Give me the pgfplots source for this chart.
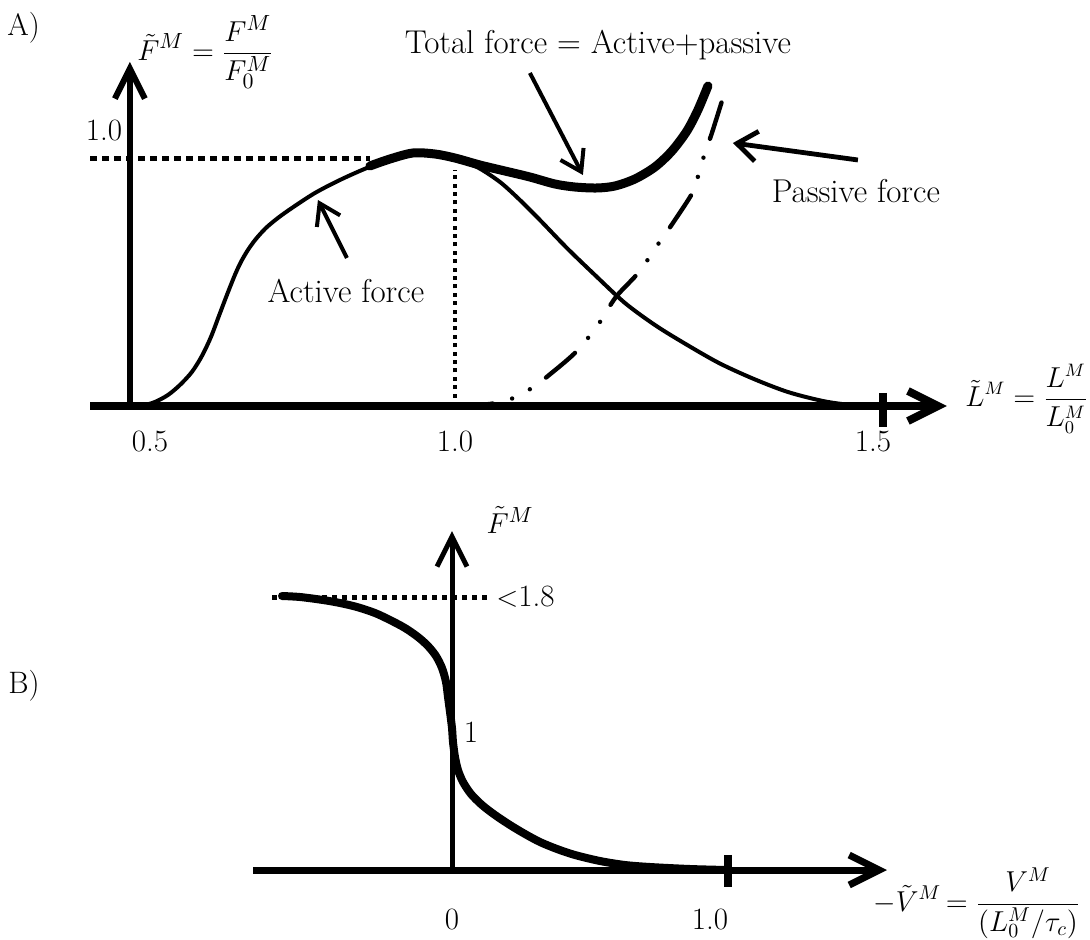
\documentclass[border=0pt]{standalone}
\usepackage{fontspec}
\usepackage{pgfplots}
\pgfplotsset{compat=1.18}
\usetikzlibrary{arrows.meta}
\newcommand{\lab}{\fontsize{15.5}{18.6}\selectfont}
\newcommand{\txt}{\fontsize{16.5}{19.8}\selectfont}
\newcommand{\mth}{\fontsize{14}{16.8}\selectfont}
\newcommand{\mthA}{\fontsize{13.5}{16.2}\selectfont}
\tikzset{
  bigarrow/.style={-{Straight Barb[length=15pt,width=15pt]}},
  smallarrow/.style={line width=2pt,-{Straight Barb[length=10pt,width=13pt]}},
}
\begin{document}
\begin{tikzpicture}
\useasboundingbox (0,0) rectangle (545pt,-470pt);

% ---------------- Panel A ----------------
\begin{axis}[
  at={(45pt,-233.875pt)}, anchor=south west,
  x=376.5pt, y=123.5pt,
  xmin=0.447, xmax=1.585, ymin=-0.25, ymax=1.5,
  enlargelimits=false, clip=false,
  axis x line=middle, axis y line=none,
  x axis line style={line width=4pt, bigarrow},
  xtick={0.5,0.9316,1.5},
  xticklabels={\hspace*{20pt}0.5,1.0,1.5\hspace*{10pt}},
  hide obscured x ticks=false,
  major tick length=0pt,
  xticklabel style={font=\lab, yshift=-9pt},
  ytick=\empty,
]
% y axis
\draw[line width=3pt, bigarrow] (axis cs:0.5,0) -- (axis cs:0.5,1.393);
% tick at 1.5
\draw[line width=4pt] (axis cs:1.5,0.053) -- (axis cs:1.5,-0.085);
% dotted guides
\draw[line width=2.5pt, dash pattern=on 3.5pt off 2.5pt] (axis cs:0.447,1.0) -- (axis cs:0.8187,1.0);
\draw[line width=2pt, dash pattern=on 2pt off 2.2pt] (axis cs:0.9316,0) -- (axis cs:0.9316,0.955);

% Passive force (dash dot dot)
\addplot[line width=2.2pt, smooth, line cap=round,
  dash pattern=on 19pt off 10pt on 0pt off 10pt on 0pt off 10pt] coordinates {
(0.9316,0) (0.9781,0.0081) (1.0060,0.0283) (1.0339,0.0729) (1.0551,0.1215)
(1.0923,0.2186) (1.1215,0.3279) (1.1454,0.4413) (1.1760,0.5425) (1.2052,0.6721)
(1.2211,0.7409) (1.2477,0.8664) (1.2556,0.9433) (1.2636,1.0243) (1.2729,1.1053)
(1.2875,1.2470)};

% Active force
\addplot[line width=2pt, smooth] coordinates {
(0.5159,0) (0.5332,0.0162) (0.5505,0.0445) (0.5664,0.0850) (0.5823,0.1377)
(0.5956,0.2024) (0.6076,0.2794) (0.6182,0.3644) (0.6288,0.4494) (0.6394,0.5304)
(0.6474,0.5830) (0.6567,0.6316) (0.6673,0.6761) (0.6806,0.7206) (0.6965,0.7611)
(0.7151,0.8016) (0.7457,0.8623) (0.7789,0.9150)
(0.8147,0.9636) (0.8453,0.9960) (0.8758,1.0202) (0.9051,1.0162)
(0.9316,1.0000) (0.9608,0.9676) (0.9914,0.9069) (1.0179,0.8340) (1.0445,0.7530)
(1.0803,0.6397) (1.1175,0.5304) (1.1574,0.4170) (1.1972,0.3279) (1.2357,0.2551)
(1.2822,0.1741) (1.3287,0.1093) (1.3738,0.0567) (1.4203,0.0202) (1.4575,0.0040)
(1.4894,0)};

% Total force
\addplot[line width=4.5pt, smooth, line cap=round] coordinates {
(0.8187,0.9717) (0.8453,1.0000) (0.8758,1.0243) (0.9051,1.0202) (0.9316,1.0040)
(0.9648,0.9757) (0.9980,0.9514) (1.0312,0.9271) (1.0644,0.8988) (1.0910,0.8866)
(1.1202,0.8826) (1.1441,0.8907) (1.1706,0.9190) (1.1972,0.9676) (1.2198,1.0324)
(1.2397,1.1134) (1.2543,1.1984) (1.2676,1.2955)};

% labels and annotation arrows
\node[font=\lab, anchor=west, inner sep=0pt] at (axis cs:0.3367,1.5304) {A)};
\node[font=\lab, anchor=west, inner sep=0pt] at (axis cs:0.5093,1.4332)
  {$\displaystyle \tilde{F}^M = \frac{F^M}{F_0^M}$};
\node[font=\lab, inner sep=0pt] at (axis cs:0.4655,1.1134) {1.0};
\node[font=\mthA, anchor=west, inner sep=0pt] at (axis cs:1.6089,0.0283)
  {$\displaystyle \tilde{L}^M = \frac{L^M}{L_0^M}$};
\node[font=\txt, inner sep=0pt] at (axis cs:1.1215,1.4615) {Total force = Active+passive};
\draw[smallarrow] (axis cs:1.0312,1.3482) -- (axis cs:1.1016,0.9352);
\node[font=\txt, inner sep=0pt] at (axis cs:1.4641,0.8704) {Passive force};
\draw[line width=2.4pt,-{Straight Barb[length=10pt,width=15pt]}] (axis cs:1.4668,0.9960) -- (axis cs:1.3008,1.0648);
\node[font=\txt, inner sep=0pt] at (axis cs:0.7869,0.4656) {Active force};
\draw[smallarrow] (axis cs:0.7882,0.5992) -- (axis cs:0.7497,0.8340);
\end{axis}

% ---------------- Panel B ----------------
\begin{axis}[
  at={(126.5pt,-457.75pt)}, anchor=south west,
  x=138pt, y=75.833pt,
  xmin=-0.721, xmax=1.576, ymin=-0.3, ymax=2.3,
  enlargelimits=false, clip=false,
  axis x line=middle, axis y line=none,
  x axis line style={line width=3.5pt, bigarrow},
  xtick={0,1},
  xticklabels={0,1.0\hspace*{18pt}},
  hide obscured x ticks=false,
  major tick length=0pt,
  xticklabel style={font=\lab, yshift=-16pt},
  ytick=\empty,
]
\draw[line width=2.5pt, bigarrow] (axis cs:0,0) -- (axis cs:0,2.235);
\draw[line width=4pt] (axis cs:1,0.099) -- (axis cs:1,-0.112);
\draw[line width=2.5pt, dash pattern=on 2.5pt off 2.5pt] (axis cs:-0.652,1.8) -- (axis cs:0.130,1.8);

\addplot[line width=4pt, smooth, line cap=round] coordinates {
(-0.6159,1.8066) (-0.5507,1.8000) (-0.4674,1.7802) (-0.4058,1.7604) (-0.3442,1.7340)
(-0.2790,1.6945) (-0.2246,1.6483) (-0.1703,1.5956) (-0.1232,1.5362) (-0.0870,1.4769)
(-0.0580,1.4110) (-0.0362,1.3318) (-0.0217,1.2395) (-0.0145,1.1406) (-0.0072,1.0417)
(0.0000,0.9362) (0.0036,0.8439) (0.0109,0.7450) (0.0217,0.6593) (0.0399,0.5802)
(0.0688,0.5011) (0.1087,0.4286) (0.1558,0.3626) (0.2101,0.2967) (0.2645,0.2374)
(0.3188,0.1846) (0.3804,0.1385) (0.4457,0.0989) (0.5362,0.0593) (0.6268,0.0330)
(0.7174,0.0198) (0.8623,0.0066) (0.9964,0)};

\node[font=\lab, anchor=west, inner sep=0pt] at (axis cs:-1.6087,1.2132) {B)};
\node[font=\lab, inner sep=0pt] at (axis cs:0.2101,2.3077) {$\tilde{F}^M$};
\node[font=\lab, anchor=west, inner sep=0pt] at (axis cs:0.1594,1.8) {$<$1.8};
\node[font=\lab, inner sep=0pt] at (axis cs:0.0688,0.9099) {1};
\node[font=\mth, anchor=west, inner sep=0pt] at (axis cs:1.5254,-0.2176)
  {$\displaystyle -\tilde{V}^M \mkern-2mu= \frac{V^M}{(L_0^M/\tau_c)}$};
\end{axis}
\end{tikzpicture}
\end{document}
